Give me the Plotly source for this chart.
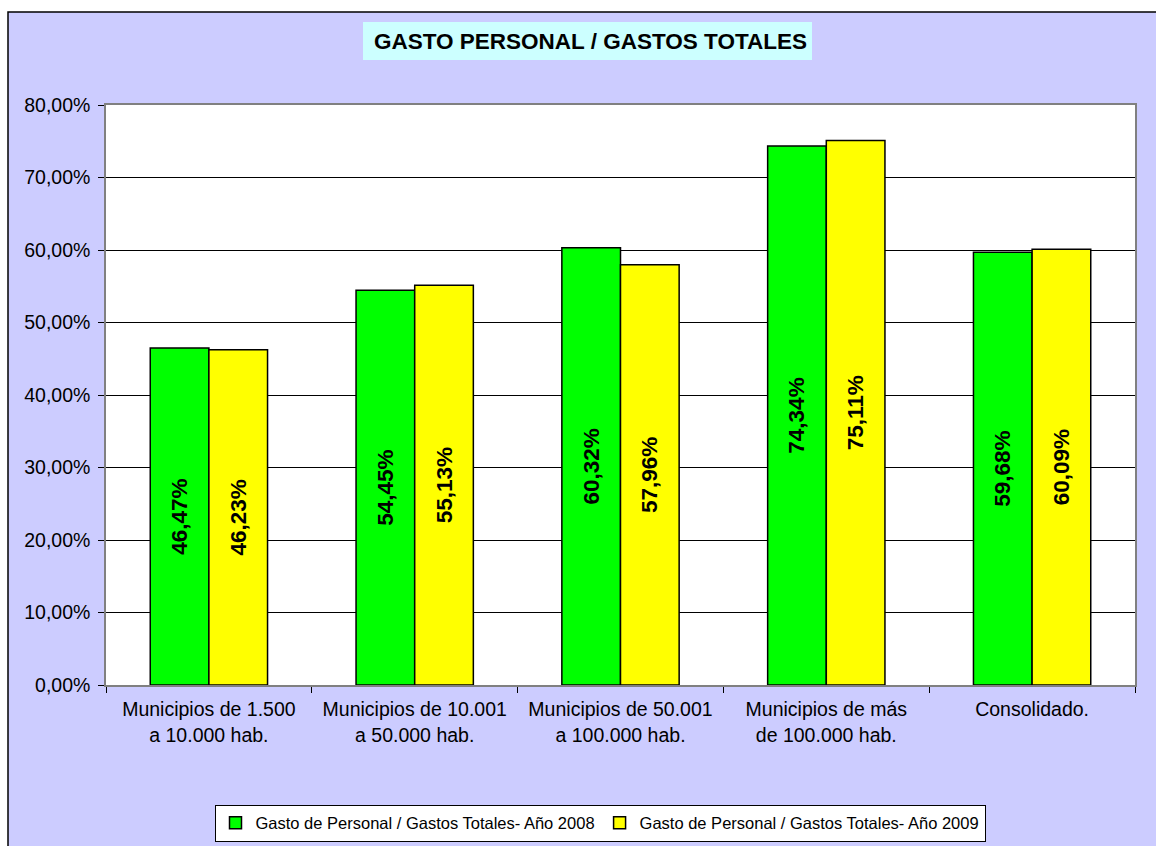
import plotly.graph_objects as go

categories = [
    "Municipios de 1.500<br>a 10.000 hab.",
    "Municipios de 10.001<br>a 50.000 hab.",
    "Municipios de 50.001<br>a 100.000 hab.",
    "Municipios de más<br>de 100.000 hab.",
    "Consolidado.",
]
values_2008 = [46.47, 54.45, 60.32, 74.34, 59.68]
values_2009 = [46.23, 55.13, 57.96, 75.11, 60.09]
series_names = [
    "Gasto de Personal / Gastos Totales- Año 2008",
    "Gasto de Personal / Gastos Totales- Año 2009",
]
title_text = "GASTO PERSONAL / GASTOS TOTALES"

FONT = "Liberation Sans, Arial, sans-serif"
OFF = 0  # page body margin (removed by post_script)
W, H = 1156, 846
# plot area in reference screen px
PL, PR, PT, PB = 106, 1135, 105, 685
L, T = PL - OFF, PT - OFF
R, B = W - (PR - OFF), H - (PB - OFF)
pw, ph = W - L - R, H - T - B


def px_x(x):
    return (x - OFF - L) / pw


def px_y(y):
    return (PB - y) / ph


fig = go.Figure()
for name, vals, color in [(series_names[0], values_2008, "#00FF00"),
                          (series_names[1], values_2009, "#FFFF00")]:
    fig.add_trace(go.Bar(
        name=name, x=categories, y=vals,
        marker=dict(color=color, line=dict(color="black", width=1.5)),
        text=vals, texttemplate="%{y:.2f}%", textposition="inside",
        insidetextanchor="middle", textangle=-90,
        textfont=dict(family=FONT, size=22.5, color="black", weight="bold"),
        cliponaxis=False,
    ))

fig.update_layout(
    width=W, height=H,
    margin=dict(l=L, r=R, t=T, b=B, autoexpand=False),
    paper_bgcolor="white", plot_bgcolor="white",
    separators=",.",
    barmode="group", bargap=0.43, bargroupgap=0,
    font=dict(family=FONT, size=19.5, color="black"),
    showlegend=True,
    legend=dict(orientation="h", x=px_x(600), y=px_y(823), xanchor="center", yanchor="middle",
                bgcolor="white", bordercolor="black", borderwidth=1,
                font=dict(family=FONT, size=16.5, color="black"),
                itemwidth=30, tracegroupgap=0),
    shapes=[
        dict(type="rect", xref="paper", yref="paper", layer="below",
             x0=px_x(8), x1=px_x(1170), y0=px_y(860), y1=px_y(12),
             fillcolor="#CCCCFF", line=dict(color="black", width=1.5)),
        dict(type="rect", xref="paper", yref="paper", layer="below",
             x0=0, x1=1, y0=0, y1=1, fillcolor="white", line=dict(width=0)),
        dict(type="rect", xref="paper", yref="paper", layer="below",
             x0=px_x(363), x1=px_x(812), y0=px_y(60), y1=px_y(22),
             fillcolor="#CCFFFF", line=dict(width=0)),
    ],
    annotations=[
        dict(text="<b>" + title_text + "</b>", xref="paper", yref="paper",
             x=px_x(590), y=px_y(41), xanchor="center", yanchor="middle",
             showarrow=False, font=dict(family=FONT, size=22.5, color="black")),
    ],
)

fig.update_yaxes(range=[0, 80], dtick=10, tickformat=".2f", ticksuffix="%",
                 showgrid=True, gridcolor="black", gridwidth=1,
                 showline=True, linecolor="#808080", linewidth=1.5, mirror=True,
                 ticks="outside", ticklen=6, tickcolor="black", ticklabelstandoff=4,
                 tickfont=dict(family=FONT, size=19.5, color="black"), zeroline=False)
fig.update_xaxes(showline=True, linecolor="#808080", linewidth=1.5, mirror=True,
                 ticks="outside", ticklen=6, tickcolor="black", tickson="boundaries",
                 ticklabelstandoff=6,
                 tickfont=dict(family=FONT, size=19.5, color="black"))

fig.write_html("out.html", config={"displayModeBar": False},
               post_script="document.body.style.margin='0';document.body.style.overflow='hidden';")
